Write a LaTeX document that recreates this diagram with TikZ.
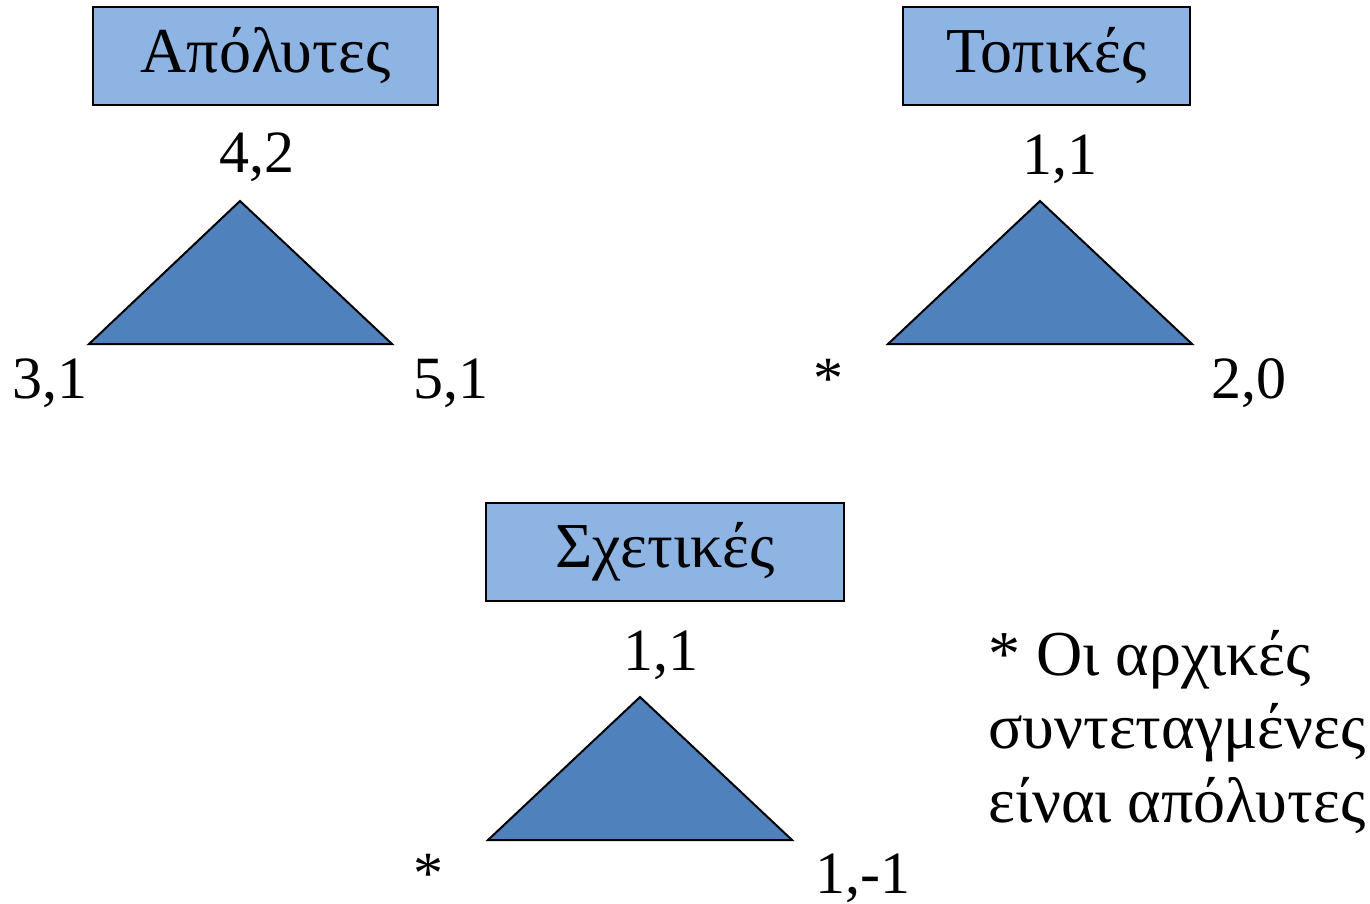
\documentclass[tikz,border=0pt]{standalone}
\usepackage{fontspec}
\setmainfont{Liberation Serif}
\definecolor{boxfill}{HTML}{8EB4E3}
\definecolor{trifill}{HTML}{4F81BD}
\begin{document}
\begin{tikzpicture}[x=1pt,y=-1pt,
  titlebox/.style={draw=black,line width=2pt,fill=boxfill,inner sep=0pt,font=\fontsize{64}{76}\selectfont},
  tri/.style={draw=black,line width=2pt,fill=trifill,line join=miter},
  lbl/.style={anchor=base west,inner sep=0pt,font=\fontsize{60}{72}\selectfont},
  note/.style={anchor=base west,inner sep=0pt,font=\fontsize{64}{76}\selectfont}]
\useasboundingbox (0,0) rectangle (1370,904);
% boxes
\node[titlebox,minimum width=345pt,minimum height=98pt] (b1) at (265.5,56) {Απόλυτες};
\node[titlebox,minimum width=287pt,minimum height=98pt] (b2) at (1046.5,56) {Τοπικές};
\node[titlebox,minimum width=358pt,minimum height=98pt] (b3) at (665,552) {Σχετικές};
% triangles
\coordinate (t1a) at (240,201); \coordinate (t1l) at (89,344); \coordinate (t1r) at (392,344);
\coordinate (t2a) at (1040,201); \coordinate (t2l) at (888,344); \coordinate (t2r) at (1192,344);
\coordinate (t3a) at (640,697); \coordinate (t3l) at (488,840); \coordinate (t3r) at (792,840);
\draw[tri] (t1a) -- (t1r) -- (t1l) -- cycle;
\draw[tri] (t2a) -- (t2r) -- (t2l) -- cycle;
\draw[tri] (t3a) -- (t3r) -- (t3l) -- cycle;
% labels
\node[lbl] (l1a) at (219,173) {4,2};
\node[lbl] (l1l) at (12,398) {3,1};
\node[lbl] (l1r) at (413,398) {5,1};
\node[lbl] (l2a) at (1022,175) {1,1};
\node[lbl] (l2l) at (813,398) {*};
\node[lbl] (l2r) at (1211,398) {2,0};
\node[lbl] (l3a) at (623,670) {1,1};
\node[lbl] (l3l) at (413,893) {*};
\node[lbl] (l3r) at (815,893) {1,-1};
% note
\node[note] (n1) at (988,675) {* Οι αρχικές};
\node[note] (n2) at (988,748) {συντεταγμένες};
\node[note] (n3) at (988,822) {είναι απόλυτες};
\end{tikzpicture}
\end{document}
